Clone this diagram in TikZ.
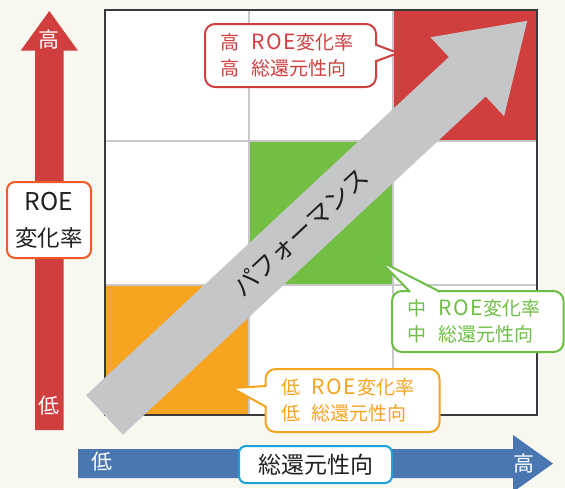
\documentclass[tikz,border=0pt]{standalone}
\usepackage{fontspec}
\setmainfont{Noto Sans CJK JP}
\usetikzlibrary{calc}
\definecolor{bgc}{HTML}{F8F7F0}
\definecolor{redA}{HTML}{D03E3E}
\definecolor{greenC}{HTML}{72BF44}
\definecolor{orangeC}{HTML}{F7A520}
\definecolor{grayA}{HTML}{C5C6C8}
\definecolor{blueA}{HTML}{4A77B2}
\definecolor{blueB}{HTML}{1CA2DB}
\definecolor{roeC}{HTML}{EF5A28}
\definecolor{redT}{HTML}{D03E3E}
\definecolor{greenT}{HTML}{6EBE46}
\definecolor{orangeT}{HTML}{F6A31E}
\definecolor{gridC}{HTML}{C8C8C8}
\definecolor{borderC}{HTML}{3A3A3A}
\definecolor{inkC}{HTML}{231F20}
\newcommand{\fsz}[2]{\fontsize{#1}{#2}\selectfont}
\newcommand{\roeS}{{\fontsize{21}{25.6}\selectfont R\kern1.6pt O\kern1.6pt E\kern1.2pt}}
\newcommand{\gapS}{\hspace{0.62em}}
\begin{document}
\begin{tikzpicture}[x=1pt,y=1pt,
  callout/.style={fill=white, line width=2pt, rounded corners=10pt, outer sep=0pt,
    inner xsep=15.5pt, inner ysep=0pt, align=left, font=\fsz{19}{25.6}},
  whitelabel/.style={text=white, font=\fsz{21}{21}, inner sep=0pt},
  labelbox/.style={fill=white, line width=2pt, outer sep=0pt, align=center, inner sep=0pt, text=inkC}]
\useasboundingbox (0,0) rectangle (565,-488);
\fill[bgc] (0,0) rectangle (565,-488);

% grid cells
\fill[redA] (393,-10) rectangle (537,-141);
\fill[greenC] (249,-141) rectangle (393,-285);
\fill[orangeC] (105,-285) rectangle (249,-415);
\fill[white] (105,-10) rectangle (393,-141);
\fill[white] (105,-141) rectangle (249,-285);
\fill[white] (393,-141) rectangle (537,-415);
\fill[white] (249,-285) rectangle (393,-415);
\draw[gridC, line width=1.5pt] (249,-10) -- (249,-415) (393,-10) -- (393,-415)
  (105,-141) -- (537,-141) (105,-285) -- (537,-285);
\draw[borderC, line width=1.4pt] (105,-10) rectangle (537,-415);

% vertical red arrow
\fill[redA] (35,-430) -- (35,-50.7) -- (20.7,-50.7) -- (49.3,-11) -- (77.9,-50.7)
  -- (63.6,-50.7) -- (63.6,-430) -- cycle;
\node[whitelabel] (vhi) at (49.3,-40) {高};
\node[whitelabel] (vlo) at (49.3,-406) {低};
\node[labelbox, draw=roeC, rounded corners=8pt, minimum width=84pt, minimum height=76pt,
  font=\fsz{22.5}{36}] (roe) at (49,-220) {{\fontsize{24.5}{36}\selectfont ROE}\\変化率};

% horizontal blue arrow
\fill[blueA] (78,-449) -- (513,-449) -- (513,-435) -- (553,-463.5) -- (513,-492)
  -- (513,-478) -- (78,-478) -- cycle;
\node[whitelabel] (hlo) at (102,-462) {低};
\node[whitelabel] (hhi) at (524,-464) {高};
\node[labelbox, draw=blueB, rounded corners=7pt, minimum width=153pt, minimum height=37pt,
  font=\fsz{23}{23}] (sokan) at (315.5,-464.5) {総還元性向};

% performance arrow
\begin{scope}[shift={(104.5,-415)}, rotate=43]
\fill[grayA] (0,27) -- (0,-27) -- (496,-27) -- (496,-54) -- (578,0) -- (496,54)
  -- (496,27) -- cycle;
\node[rotate=43, text=inkC, font=\fsz{25}{25}, inner sep=0pt] (perf) at (268,0) {パフォーマンス};
\end{scope}

% callouts
\node[callout, draw=redT, text=redT, text width=140pt, minimum height=63pt] (hiC)
  at (290.5,-55.5) {高\gapS\roeS 変化率\\高\gapS 総還元性向};
\coordinate (hiTip) at (398,-53);
\fill[white] ($(hiC.east)+(-1.5,11)$) -- (hiTip) -- ($(hiC.east)+(-1.5,-6)$) -- cycle;
\draw[redT, line width=2pt, line join=miter] ($(hiC.east)+(-0.8,11)$) -- (hiTip) -- ($(hiC.east)+(-0.8,-6)$);

\node[callout, draw=greenT, text=greenT, text width=140.5pt, minimum height=61pt] (miC)
  at (477.75,-321.5) {中\gapS\roeS 変化率\\中\gapS 総還元性向};
\coordinate (miTip) at (380,-261);
\fill[white] ($(miC.north west)+(18,-1.5)$) -- (miTip) -- ($(miC.north west)+(48,-1.5)$) -- cycle;
\draw[greenT, line width=2pt, line join=miter] ($(miC.north west)+(18,-0.8)$) -- (miTip) -- ($(miC.north west)+(48,-0.8)$);

\node[callout, draw=orangeT, text=orangeT, text width=143pt, minimum height=63pt] (loC)
  at (352.5,-400.5) {低\gapS\roeS 変化率\\低\gapS 総還元性向};
\coordinate (loTip) at (232,-388);
\fill[white] ($(loC.west)+(1.5,14.5)$) -- (loTip) -- ($(loC.west)+(1.5,-6.5)$) -- cycle;
\draw[orangeT, line width=2pt, line join=miter] ($(loC.west)+(0.8,14.5)$) -- (loTip) -- ($(loC.west)+(0.8,-6.5)$);
\end{tikzpicture}
\end{document}
